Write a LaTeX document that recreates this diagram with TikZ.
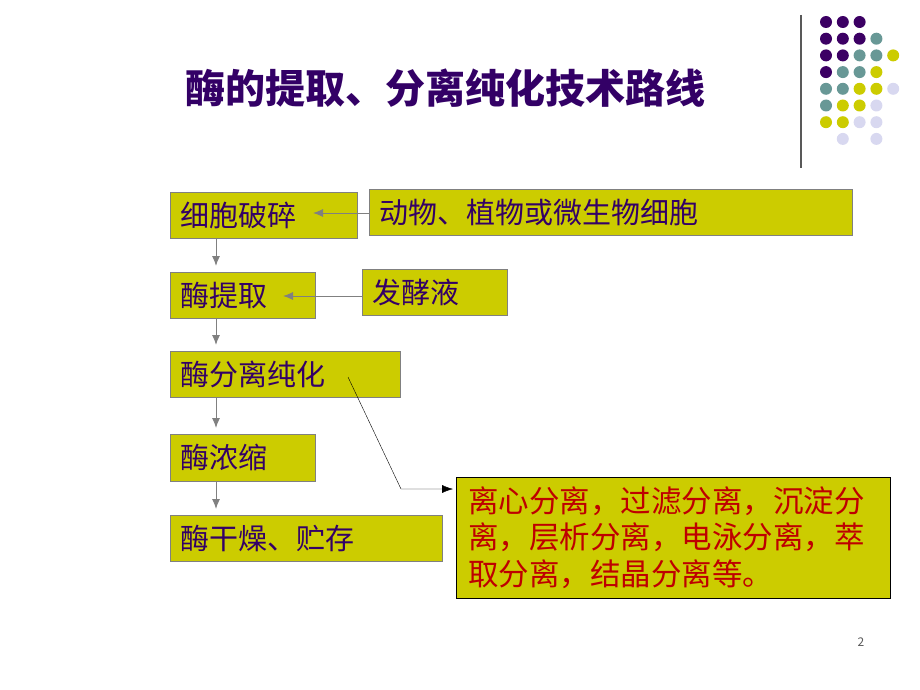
\documentclass[tikz,border=0pt]{standalone}
\usepackage{fontspec}
\setmainfont{Noto Sans CJK SC}
\usetikzlibrary{calc,arrows.meta}
\definecolor{ink}{RGB}{51,0,102}
\definecolor{olive}{RGB}{204,204,0}
\definecolor{deepred}{RGB}{190,0,0}
\definecolor{dotp}{RGB}{60,0,100}
\definecolor{dott}{RGB}{104,152,150}
\definecolor{doty}{RGB}{204,204,0}
\definecolor{dotl}{RGB}{216,216,240}
\tikzset{
  box/.style={draw=gray, fill=olive, anchor=north west, inner xsep=10pt,
    minimum height=46pt, align=left, text=ink,
    font=\fontsize{29}{34}\selectfont},
  flow/.style={draw=gray, line width=1pt, -{Latex[length=10pt,width=8pt]}, shorten >=6pt},
}
\begin{document}
\begin{tikzpicture}[x=1pt,y=-1pt]
    \useasboundingbox (0,0) rectangle (920,690);
    \node[text=ink, font=\fontsize{40}{46}\selectfont\bfseries] (title) at (445,88) {酶的提取、分离纯化技术路线};
    \draw[gray!70!black, line width=1.5pt] (801,15) -- (801,168);
    % dots on the right
    \foreach \row/\cols in {0/{p,p,p}, 1/{p,p,p,t}, 2/{p,p,t,t,y}, 3/{p,t,t,y},
                            4/{t,t,y,y,l}, 5/{t,y,y,l}, 6/{y,y,l,l}, 7/{n,l,n,l}}
      \foreach \c [count=\i from 0] in \cols {
        \if n\c\else
          \fill[dot\c] (826+16.8*\i, 22+16.7*\row) circle (6);
        \fi
      };

    \node[box, text width=167pt] (cell) at (170,192) {细胞破碎};
    \node[box, text width=463pt] (source) at (369,189) {动物、植物或微生物细胞};
    \node[box, text width=125pt] (extract) at (170,272) {酶提取};
    \node[box, text width=125pt] (broth) at (362,269) {发酵液};
    \node[box, text width=210pt] (purify) at (170,351) {酶分离纯化};
    \node[box, text width=125pt, minimum height=47pt] (conc) at (170,434) {酶浓缩};
    \node[box, text width=252pt] (dry) at (170,515) {酶干燥、贮存};
    \node[box, draw=black, text=deepred, inner xsep=12pt, text width=410pt, minimum height=121pt,
          font=\fontsize{30.5}{36.5}\selectfont] (methods) at (456,477)
          {离心分离，过滤分离，沉淀分\\离，层析分离，电泳分离，萃\\取分离，结晶分离等。};
    \node[text=gray!70!black, font=\fontsize{12}{14}\selectfont] (page) at (861,642) {2};

    \coordinate (cellin) at (313,213);
    \coordinate (extractin) at (283,296);
    \coordinate (pin) at (348,377);
    \coordinate (bend) at (401,489);
    \draw[flow, shorten >=0pt] (source.west |- cellin) -- (cellin);
    \draw[flow, shorten >=0pt] (broth.west |- extractin) -- (extractin);
    \draw[flow] ($(cell.south west)+(46,0)$) -- ($(extract.north west)+(46,0)$);
    \draw[flow] ($(extract.south west)+(46,0)$) -- ($(purify.north west)+(46,0)$);
    \draw[flow] ($(purify.south west)+(46,0)$) -- ($(conc.north west)+(46,0)$);
    \draw[flow] ($(conc.south west)+(46,0)$) -- ($(dry.north west)+(46,0)$);
    \draw[-{Latex[length=11pt,width=8pt]}, shorten >=3pt] (pin) -- (bend) -- (bend -| methods.west);
\end{tikzpicture}
\end{document}
